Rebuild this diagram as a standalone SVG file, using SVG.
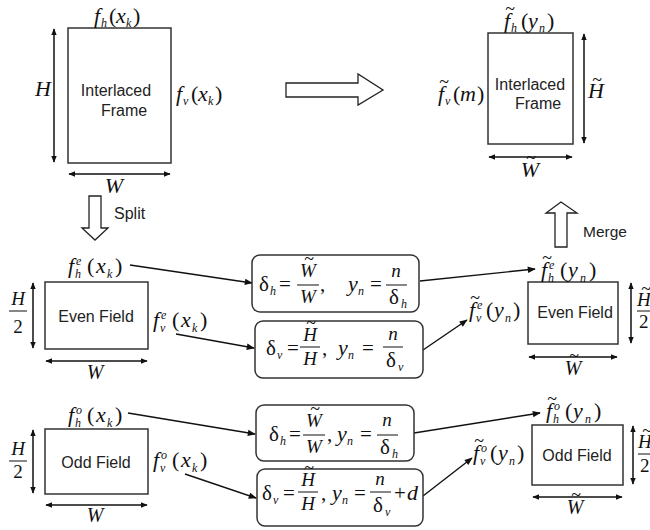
<svg xmlns="http://www.w3.org/2000/svg" width="650" height="530" viewBox="0 0 650 530">
<style>
.m{font-family:"Liberation Serif","Times New Roman",serif;font-style:italic;font-size:22px;fill:#111}
.f{font-family:"Liberation Serif","Times New Roman",serif;font-style:italic;font-size:19px;fill:#111}
.g{font-family:"Liberation Serif","Times New Roman",serif;font-style:normal;font-size:21px;fill:#111}
.s{font-size:12px}
.u{font-style:normal}
.t{font-family:"Liberation Serif","Times New Roman",serif;font-size:18px;fill:#111;text-anchor:middle}
.c{text-anchor:middle}
.lb{font-family:"Liberation Sans",Arial,sans-serif;font-size:16px;fill:#222}
.fr{fill:#fff;stroke:#333;stroke-width:1.5}
.bx{fill:#fff;stroke:#333;stroke-width:1.5}
.dim{stroke:#111;stroke-width:1.5;fill:none;marker-start:url(#ah);marker-end:url(#ah)}
.con{stroke:#111;stroke-width:1.4;fill:none;marker-end:url(#ah2)}
.fl{stroke:#111;stroke-width:1}
.big{fill:#fff;stroke:#222;stroke-width:1.3}
</style>
<defs>
<marker id="ah" viewBox="0 0 10 10" refX="9" refY="5" markerWidth="7" markerHeight="7" markerUnits="userSpaceOnUse" orient="auto-start-reverse"><path d="M0,1 L10,5 L0,9 z" fill="#111"/></marker>
<marker id="ah2" viewBox="0 0 10 10" refX="9" refY="5" markerWidth="9" markerHeight="8" markerUnits="userSpaceOnUse" orient="auto"><path d="M0,1 L10,5 L0,9 z" fill="#111"/></marker>
</defs>

<g id="connectors">
<line class="con" x1="130" y1="265" x2="252" y2="283"/>
<line class="con" x1="176" y1="334" x2="254" y2="348"/>
<line class="con" x1="420" y1="281" x2="535" y2="269"/>
<line class="con" x1="423" y1="350" x2="467" y2="320"/>
<line class="con" x1="128" y1="413" x2="255" y2="434"/>
<line class="con" x1="185" y1="474" x2="256" y2="498"/>
<line class="con" x1="414" y1="433" x2="540" y2="413"/>
<line class="con" x1="423" y1="496" x2="472" y2="458"/>
<polygon class="big" points="286,83 358,83 358,74 383,90 358,105 358,97 286,97"/>
<polygon class="big" points="89,196 101,196 101,228 108,228 95,240 82,228 89,228"/>
<text class="lb" x="114" y="219">Split</text>
<polygon class="big" points="561,202 577,213 567,213 567,247 555,247 555,213 546,213"/>
<text class="lb" x="583" y="237" style="font-size:15.5px">Merge</text>
</g>

<g id="interlaced-frame">
<rect class="fr" x="68" y="28" width="103" height="135"/>
<text class="lb c" x="116" y="96">Interlaced</text>
<text class="lb c" x="124" y="116">Frame</text>
<line class="dim" x1="54" y1="29" x2="54" y2="162"/>
<line class="dim" x1="69" y1="174" x2="170" y2="174"/>
<text class="m c" x="43" y="96">H</text>
<text class="m c" x="114" y="193">W</text>
<text class="m"><tspan x="94" y="23">f</tspan><tspan class="s" x="101" y="27">h</tspan><tspan class="u" x="109" y="23">(</tspan><tspan x="116" y="23">x</tspan><tspan class="s" x="126" y="27">k</tspan><tspan class="u" x="133" y="23">)</tspan></text>
<text class="m"><tspan x="176" y="101">f</tspan><tspan class="s" x="183" y="105">v</tspan><tspan class="u" x="191" y="101">(</tspan><tspan x="198" y="101">x</tspan><tspan class="s" x="208" y="105">k</tspan><tspan class="u" x="215" y="101">)</tspan></text>
</g>

<g id="result-frame">
<rect class="fr" x="488" y="33" width="85" height="111"/>
<text class="lb c" x="530" y="90">Interlaced</text>
<text class="lb c" x="538" y="109">Frame</text>
<line class="dim" x1="584" y1="34" x2="584" y2="143"/>
<line class="dim" x1="489" y1="157" x2="572" y2="157"/>
<text class="m c" x="596" y="98">H</text><text class="t" x="597" y="86">~</text>
<text class="m c" x="530" y="177">W</text><text class="t" x="531" y="164">~</text>
<text class="t" x="510" y="15">~</text>
<text class="m"><tspan x="504" y="28">f</tspan><tspan class="s" x="511" y="32">h</tspan><tspan class="u" x="521" y="28">(</tspan><tspan x="528" y="28">y</tspan><tspan class="s" x="539" y="32">n</tspan><tspan class="u" x="547" y="28">)</tspan></text>
<text class="t" x="444" y="88">~</text>
<text class="m"><tspan x="438" y="101">f</tspan><tspan class="s" x="445" y="105">v</tspan><tspan class="u" x="453" y="101">(</tspan><tspan x="460" y="101">m</tspan><tspan class="u" x="477" y="101">)</tspan></text>
</g>

<g id="even-field">
<rect class="fr" x="45" y="282" width="103" height="67"/>
<text class="lb c" x="96" y="322">Even Field</text>
<line class="dim" x1="33" y1="283" x2="33" y2="348"/>
<line class="dim" x1="46" y1="361" x2="147" y2="361"/>
<text class="m c" x="18" y="305" style="font-size:19px">H</text>
<line class="fl" x1="9" y1="311" x2="27" y2="311"/>
<text class="g c" x="18" y="333" style="font-size:19px">2</text>
<text class="m c" x="95" y="379" style="font-size:20px">W</text>
<text class="m"><tspan x="68" y="273">f</tspan><tspan class="s" x="76" y="265">e</tspan><tspan class="s" x="75" y="278">h</tspan><tspan class="u" x="87" y="273">(</tspan><tspan x="96" y="273">x</tspan><tspan class="s" x="107" y="278">k</tspan><tspan class="u" x="115" y="273">)</tspan></text>
<text class="m"><tspan x="153" y="327">f</tspan><tspan class="s" x="161" y="319">e</tspan><tspan class="s" x="160" y="332">v</tspan><tspan class="u" x="172" y="327">(</tspan><tspan x="181" y="327">x</tspan><tspan class="s" x="192" y="332">k</tspan><tspan class="u" x="200" y="327">)</tspan></text>
</g>

<g id="odd-field">
<rect class="fr" x="45" y="429" width="103" height="65"/>
<text class="lb c" x="96" y="468">Odd Field</text>
<line class="dim" x1="33" y1="430" x2="33" y2="493"/>
<line class="dim" x1="46" y1="505" x2="147" y2="505"/>
<text class="m c" x="18" y="455" style="font-size:19px">H</text>
<line class="fl" x1="9" y1="461" x2="27" y2="461"/>
<text class="g c" x="18" y="478" style="font-size:19px">2</text>
<text class="m c" x="95" y="522" style="font-size:20px">W</text>
<text class="m"><tspan x="68" y="422">f</tspan><tspan class="s" x="76" y="414">o</tspan><tspan class="s" x="75" y="427">h</tspan><tspan class="u" x="87" y="422">(</tspan><tspan x="96" y="422">x</tspan><tspan class="s" x="107" y="427">k</tspan><tspan class="u" x="115" y="422">)</tspan></text>
<text class="m"><tspan x="153" y="467">f</tspan><tspan class="s" x="161" y="459">o</tspan><tspan class="s" x="160" y="472">v</tspan><tspan class="u" x="172" y="467">(</tspan><tspan x="181" y="467">x</tspan><tspan class="s" x="192" y="472">k</tspan><tspan class="u" x="200" y="467">)</tspan></text>
</g>

<g id="even-h-box">
<rect class="bx" x="252" y="255" width="167" height="57" rx="8"/>
<text class="g" x="259" y="291">δ</text><text class="m s" x="270" y="295">h</text>
<text class="g" x="279" y="291">=</text>
<text class="t" x="309" y="265">~</text><text class="f c" x="308" y="277">W</text>
<line class="fl" x1="297" y1="285" x2="319" y2="285"/>
<text class="f c" x="308" y="303">W</text>
<text class="g" x="320" y="291">,</text>
<text class="m" x="348" y="291">y</text><text class="m s" x="358" y="295">n</text>
<text class="g" x="370" y="291">=</text>
<text class="f c" x="396" y="277">n</text>
<line class="fl" x1="386" y1="285" x2="407" y2="285"/>
<text class="g c" x="394" y="304">δ</text><text class="m s" x="401" y="308">h</text>
</g>

<g id="even-v-box">
<rect class="bx" x="255" y="321" width="168" height="57" rx="8"/>
<text class="g" x="266" y="355">δ</text><text class="m s" x="277" y="359">v</text>
<text class="g" x="287" y="355">=</text>
<text class="t" x="311" y="329">~</text><text class="f c" x="310" y="341">H</text>
<line class="fl" x1="300" y1="347" x2="320" y2="347"/>
<text class="f c" x="310" y="365">H</text>
<text class="g" x="322" y="355">,</text>
<text class="m" x="338" y="355">y</text><text class="m s" x="348" y="359">n</text>
<text class="g" x="362" y="355">=</text>
<text class="f c" x="393" y="340">n</text>
<line class="fl" x1="383" y1="347" x2="403" y2="347"/>
<text class="g c" x="391" y="367">δ</text><text class="m s" x="398" y="371">v</text>
</g>

<g id="odd-h-box">
<rect class="bx" x="256" y="405" width="158" height="56" rx="8"/>
<text class="g" x="269" y="441">δ</text><text class="m s" x="280" y="445">h</text>
<text class="g" x="289" y="441">=</text>
<text class="t" x="315" y="415">~</text><text class="f c" x="314" y="427">W</text>
<line class="fl" x1="303" y1="435" x2="325" y2="435"/>
<text class="f c" x="314" y="453">W</text>
<text class="g" x="327" y="441">,</text>
<text class="m" x="337" y="441">y</text><text class="m s" x="347" y="445">n</text>
<text class="g" x="360" y="441">=</text>
<text class="f c" x="387" y="426">n</text>
<line class="fl" x1="377" y1="435" x2="398" y2="435"/>
<text class="g c" x="385" y="454">δ</text><text class="m s" x="392" y="458">h</text>
</g>

<g id="odd-v-box">
<rect class="bx" x="257" y="469" width="166" height="57" rx="8"/>
<text class="g" x="262" y="500">δ</text><text class="m s" x="273" y="504">v</text>
<text class="g" x="283" y="500">=</text>
<text class="t" x="309" y="474">~</text><text class="f c" x="308" y="486">H</text>
<line class="fl" x1="298" y1="492" x2="318" y2="492"/>
<text class="f c" x="308" y="510">H</text>
<text class="g" x="321" y="500">,</text>
<text class="m" x="332" y="500">y</text><text class="m s" x="342" y="504">n</text>
<text class="g" x="354" y="500">=</text>
<text class="f c" x="380" y="485">n</text>
<line class="fl" x1="370" y1="492" x2="391" y2="492"/>
<text class="g c" x="378" y="512">δ</text><text class="m s" x="385" y="516">v</text>
<text class="g" x="394" y="500">+</text><text class="m" x="407" y="500">d</text>
</g>

<g id="even-field-result">
<rect class="fr" x="528" y="282" width="90" height="62"/>
<text class="lb c" x="575" y="318">Even Field</text>
<line class="dim" x1="631" y1="283" x2="631" y2="343"/>
<line class="dim" x1="529" y1="357" x2="617" y2="357"/>
<text class="m" x="637" y="306" style="font-size:19px">H</text><text class="t" x="646" y="295">~</text>
<line class="fl" x1="637" y1="311" x2="650" y2="311"/>
<text class="g" x="639" y="328" style="font-size:19px">2</text>
<text class="m c" x="573" y="375" style="font-size:20px">W</text><text class="t" x="574" y="362">~</text>
<text class="t" x="547" y="264">~</text>
<text class="m"><tspan x="541" y="277">f</tspan><tspan class="s" x="549" y="269">e</tspan><tspan class="s" x="548" y="282">h</tspan><tspan class="u" x="560" y="277">(</tspan><tspan x="568" y="277">y</tspan><tspan class="s" x="580" y="282">n</tspan><tspan class="u" x="589" y="277">)</tspan></text>
<text class="t" x="475" y="304">~</text>
<text class="m"><tspan x="469" y="317">f</tspan><tspan class="s" x="477" y="309">e</tspan><tspan class="s" x="476" y="322">v</tspan><tspan class="u" x="486" y="317">(</tspan><tspan x="494" y="317">y</tspan><tspan class="s" x="505" y="322">n</tspan><tspan class="u" x="513" y="317">)</tspan></text>
</g>

<g id="odd-field-result">
<rect class="fr" x="532" y="425" width="91" height="60"/>
<text class="lb c" x="577" y="461">Odd Field</text>
<line class="dim" x1="633" y1="426" x2="633" y2="484"/>
<line class="dim" x1="533" y1="497" x2="622" y2="497"/>
<text class="m" x="638" y="448" style="font-size:19px">H</text><text class="t" x="647" y="437">~</text>
<line class="fl" x1="638" y1="454" x2="650" y2="454"/>
<text class="g" x="640" y="472" style="font-size:19px">2</text>
<text class="m c" x="575" y="514" style="font-size:20px">W</text><text class="t" x="576" y="501">~</text>
<text class="t" x="552" y="405">~</text>
<text class="m"><tspan x="546" y="418">f</tspan><tspan class="s" x="554" y="410">o</tspan><tspan class="s" x="553" y="423">h</tspan><tspan class="u" x="565" y="418">(</tspan><tspan x="573" y="418">y</tspan><tspan class="s" x="585" y="423">n</tspan><tspan class="u" x="594" y="418">)</tspan></text>
<text class="t" x="479" y="447">~</text>
<text class="m"><tspan x="473" y="460">f</tspan><tspan class="s" x="481" y="452">o</tspan><tspan class="s" x="480" y="465">v</tspan><tspan class="u" x="490" y="460">(</tspan><tspan x="498" y="460">y</tspan><tspan class="s" x="509" y="465">n</tspan><tspan class="u" x="517" y="460">)</tspan></text>
</g>
</svg>
